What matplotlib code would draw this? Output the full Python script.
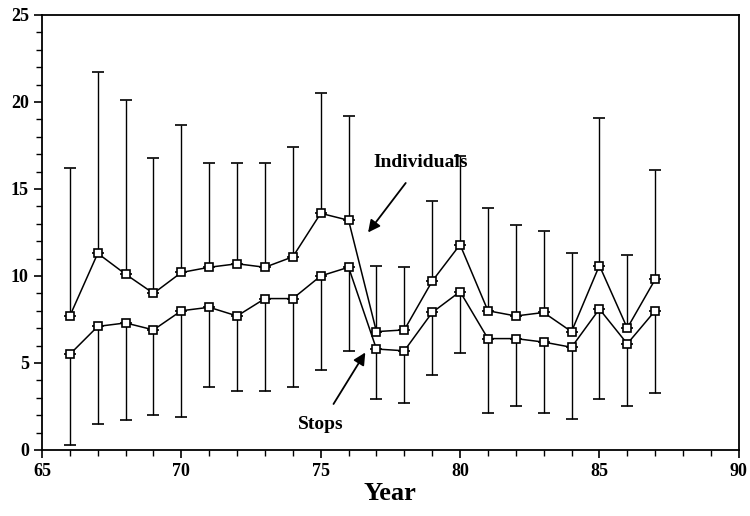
import matplotlib.pyplot as plt
from matplotlib.ticker import MultipleLocator

plt.rcParams['font.family'] = ['Liberation Serif', 'DejaVu Serif']

years = [66, 67, 68, 69, 70, 71, 72, 73, 74, 75, 76,
         77, 78, 79, 80, 81, 82, 83, 84, 85, 86, 87]

# Individuals: mean and upper end of error bar
indiv = [7.7, 11.3, 10.1, 9.0, 10.2, 10.5, 10.7, 10.5, 11.1, 13.6, 13.2,
         6.8, 6.9, 9.7, 11.8, 8.0, 7.7, 7.9, 6.8, 10.6, 7.0, 9.8]
indiv_top = [16.2, 21.7, 20.1, 16.8, 18.7, 16.5, 16.5, 16.5, 17.4, 20.5, 19.2,
             10.6, 10.5, 14.3, 16.9, 13.9, 12.9, 12.6, 11.3, 19.1, 11.2, 16.1]

# Stops: mean and lower end of error bar
stops = [5.5, 7.1, 7.3, 6.9, 8.0, 8.2, 7.7, 8.7, 8.7, 10.0, 10.5,
         5.8, 5.7, 7.9, 9.1, 6.4, 6.4, 6.2, 5.9, 8.1, 6.1, 8.0]
stops_low = [0.3, 1.5, 1.7, 2.0, 1.9, 3.6, 3.4, 3.4, 3.6, 4.6, 5.7,
             2.9, 2.7, 4.3, 5.6, 2.1, 2.5, 2.1, 1.8, 2.9, 2.5, 3.3]

fig = plt.figure(figsize=(7.5, 5.16), dpi=100)
ax = fig.add_axes([0.056, 0.128, 0.929, 0.843])

up_err = [t - m for t, m in zip(indiv_top, indiv)]
low_err = [m - l for m, l in zip(stops, stops_low)]

ax.errorbar(years, indiv, yerr=[[0] * len(indiv), up_err], color='black',
            lw=1.1, elinewidth=1.0, capsize=4, capthick=1.3,
            marker='s', ms=6, mfc='white', mec='black', mew=1.2)
ax.errorbar(years, stops, yerr=[low_err, [0] * len(stops)], color='black',
            lw=1.1, elinewidth=1.0, capsize=4, capthick=1.3,
            marker='s', ms=6, mfc='white', mec='black', mew=1.2)
# small dot in each marker
ax.plot(years, indiv, ls='none', marker='.', ms=1.5, color='black')
ax.plot(years, stops, ls='none', marker='.', ms=1.5, color='black')

ax.annotate('Individuals', xy=(76.7, 12.5), xytext=(78.6, 16.5),
            ha='center', va='center', fontsize=14, fontweight='bold',
            arrowprops=dict(arrowstyle='-|>', color='black', lw=1.3,
                            mutation_scale=18, shrinkA=8, shrinkB=0))
ax.annotate('Stops', xy=(76.6, 5.6), xytext=(75.0, 1.45),
            ha='center', va='center', fontsize=14, fontweight='bold',
            arrowprops=dict(arrowstyle='-|>', color='black', lw=1.3,
                            mutation_scale=18, shrinkA=8, shrinkB=0))

ax.set_xlim(65, 90)
ax.set_ylim(0, 25)
ax.xaxis.set_major_locator(MultipleLocator(5))
ax.xaxis.set_minor_locator(MultipleLocator(1))
ax.yaxis.set_major_locator(MultipleLocator(5))
ax.yaxis.set_minor_locator(MultipleLocator(1))
ax.tick_params(which='major', direction='out', length=6, width=1.2,
               labelsize=13)
ax.tick_params(which='minor', direction='out', length=4, width=1.0)
for lab in ax.get_xticklabels() + ax.get_yticklabels():
    lab.set_fontweight('bold')
for sp in ax.spines.values():
    sp.set_linewidth(1.3)

ax.set_xlabel('Year', fontsize=19, fontweight='bold', labelpad=1)

fig.savefig('out.png', dpi=100)
